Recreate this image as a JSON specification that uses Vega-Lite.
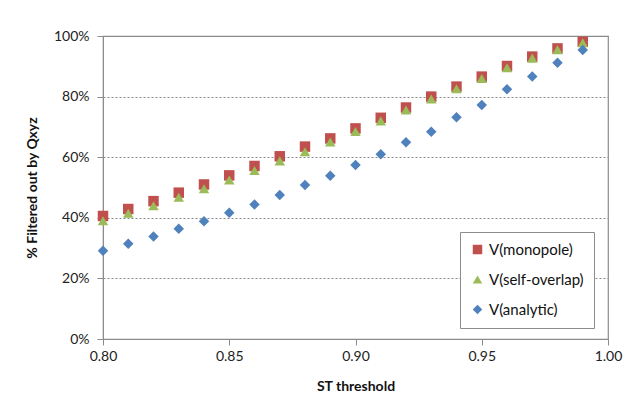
{
  "$schema": "https://vega.github.io/schema/vega-lite/v6.json",
  "width": 505,
  "height": 303,
  "autosize": "none",
  "padding": {"left": 103, "top": 36, "right": 22, "bottom": 56},
  "background": "white",
  "config": {
    "font": "Lato",
    "view": {"stroke": "#8c8c8c", "strokeWidth": 1.2},
    "axis": {
      "domainColor": "#8c8c8c",
      "tickColor": "#8c8c8c",
      "labelColor": "#222222",
      "labelFontSize": 14,
      "titleFontSize": 14,
      "titleFontWeight": "bold",
      "titleColor": "#111111",
      "labelFont": "Lato",
      "titleFont": "Lato"
    },
    "legend": {"labelFont": "Lato"}
  },
  "data": {
    "values": [
      {"st": 0.80, "series": "V(monopole)", "pct": 0.406},
      {"st": 0.81, "series": "V(monopole)", "pct": 0.429},
      {"st": 0.82, "series": "V(monopole)", "pct": 0.455},
      {"st": 0.83, "series": "V(monopole)", "pct": 0.483},
      {"st": 0.84, "series": "V(monopole)", "pct": 0.510},
      {"st": 0.85, "series": "V(monopole)", "pct": 0.540},
      {"st": 0.86, "series": "V(monopole)", "pct": 0.571},
      {"st": 0.87, "series": "V(monopole)", "pct": 0.603},
      {"st": 0.88, "series": "V(monopole)", "pct": 0.635},
      {"st": 0.89, "series": "V(monopole)", "pct": 0.662},
      {"st": 0.90, "series": "V(monopole)", "pct": 0.695},
      {"st": 0.91, "series": "V(monopole)", "pct": 0.730},
      {"st": 0.92, "series": "V(monopole)", "pct": 0.764},
      {"st": 0.93, "series": "V(monopole)", "pct": 0.800},
      {"st": 0.94, "series": "V(monopole)", "pct": 0.833},
      {"st": 0.95, "series": "V(monopole)", "pct": 0.866},
      {"st": 0.96, "series": "V(monopole)", "pct": 0.901},
      {"st": 0.97, "series": "V(monopole)", "pct": 0.932},
      {"st": 0.98, "series": "V(monopole)", "pct": 0.959},
      {"st": 0.99, "series": "V(monopole)", "pct": 0.981},
      {"st": 0.80, "series": "V(self-overlap)", "pct": 0.390},
      {"st": 0.81, "series": "V(self-overlap)", "pct": 0.415},
      {"st": 0.82, "series": "V(self-overlap)", "pct": 0.440},
      {"st": 0.83, "series": "V(self-overlap)", "pct": 0.468},
      {"st": 0.84, "series": "V(self-overlap)", "pct": 0.496},
      {"st": 0.85, "series": "V(self-overlap)", "pct": 0.525},
      {"st": 0.86, "series": "V(self-overlap)", "pct": 0.556},
      {"st": 0.87, "series": "V(self-overlap)", "pct": 0.588},
      {"st": 0.88, "series": "V(self-overlap)", "pct": 0.618},
      {"st": 0.89, "series": "V(self-overlap)", "pct": 0.650},
      {"st": 0.90, "series": "V(self-overlap)", "pct": 0.685},
      {"st": 0.91, "series": "V(self-overlap)", "pct": 0.720},
      {"st": 0.92, "series": "V(self-overlap)", "pct": 0.756},
      {"st": 0.93, "series": "V(self-overlap)", "pct": 0.792},
      {"st": 0.94, "series": "V(self-overlap)", "pct": 0.826},
      {"st": 0.95, "series": "V(self-overlap)", "pct": 0.860},
      {"st": 0.96, "series": "V(self-overlap)", "pct": 0.895},
      {"st": 0.97, "series": "V(self-overlap)", "pct": 0.927},
      {"st": 0.98, "series": "V(self-overlap)", "pct": 0.955},
      {"st": 0.99, "series": "V(self-overlap)", "pct": 0.978},
      {"st": 0.80, "series": "V(analytic)", "pct": 0.291},
      {"st": 0.81, "series": "V(analytic)", "pct": 0.314},
      {"st": 0.82, "series": "V(analytic)", "pct": 0.338},
      {"st": 0.83, "series": "V(analytic)", "pct": 0.364},
      {"st": 0.84, "series": "V(analytic)", "pct": 0.389},
      {"st": 0.85, "series": "V(analytic)", "pct": 0.417},
      {"st": 0.86, "series": "V(analytic)", "pct": 0.444},
      {"st": 0.87, "series": "V(analytic)", "pct": 0.475},
      {"st": 0.88, "series": "V(analytic)", "pct": 0.508},
      {"st": 0.89, "series": "V(analytic)", "pct": 0.539},
      {"st": 0.90, "series": "V(analytic)", "pct": 0.574},
      {"st": 0.91, "series": "V(analytic)", "pct": 0.610},
      {"st": 0.92, "series": "V(analytic)", "pct": 0.649},
      {"st": 0.93, "series": "V(analytic)", "pct": 0.684},
      {"st": 0.94, "series": "V(analytic)", "pct": 0.732},
      {"st": 0.95, "series": "V(analytic)", "pct": 0.772},
      {"st": 0.96, "series": "V(analytic)", "pct": 0.824},
      {"st": 0.97, "series": "V(analytic)", "pct": 0.866},
      {"st": 0.98, "series": "V(analytic)", "pct": 0.912},
      {"st": 0.99, "series": "V(analytic)", "pct": 0.954}
    ]
  },
  "mark": {"type": "point", "filled": true, "opacity": 1, "size": 110},
  "encoding": {
    "x": {
      "field": "st",
      "type": "quantitative",
      "title": "ST threshold",
      "scale": {"domain": [0.8, 1.0], "nice": false, "zero": false},
      "axis": {
        "values": [0.8, 0.85, 0.9, 0.95, 1.0],
        "format": ".2f",
        "grid": false,
        "tickSize": 6,
        "labelPadding": 4,
        "titlePadding": 16,
        "labelFlush": false
      }
    },
    "y": {
      "field": "pct",
      "type": "quantitative",
      "title": "% Filtered out by Qxyz",
      "scale": {"domain": [0, 1], "nice": false},
      "axis": {
        "values": [0, 0.2, 0.4, 0.6, 0.8, 1.0],
        "format": ".0%",
        "grid": true,
        "gridColor": "#888888",
        "gridDash": [2, 2],
        "gridWidth": 1,
        "tickSize": 6,
        "labelPadding": 8,
        "titlePadding": 14
      }
    },
    "color": {
      "field": "series",
      "type": "nominal",
      "scale": {
        "domain": ["V(monopole)", "V(self-overlap)", "V(analytic)"],
        "range": ["#C0504D", "#9BBB59", "#4F81BD"]
      },
      "legend": {
        "title": null,
        "orient": "none",
        "legendX": 357,
        "legendY": 196,
        "strokeColor": "#8c8c8c",
        "fillColor": "white",
        "padding": 10,
        "labelFontSize": 15,
        "labelColor": "#111111",
        "rowPadding": 14,
        "symbolSize": 90,
        "labelOffset": 4
      }
    },
    "shape": {
      "field": "series",
      "type": "nominal",
      "scale": {
        "domain": ["V(monopole)", "V(self-overlap)", "V(analytic)"],
        "range": ["square", "triangle-up", "diamond"]
      },
      "legend": null
    }
  }
}
